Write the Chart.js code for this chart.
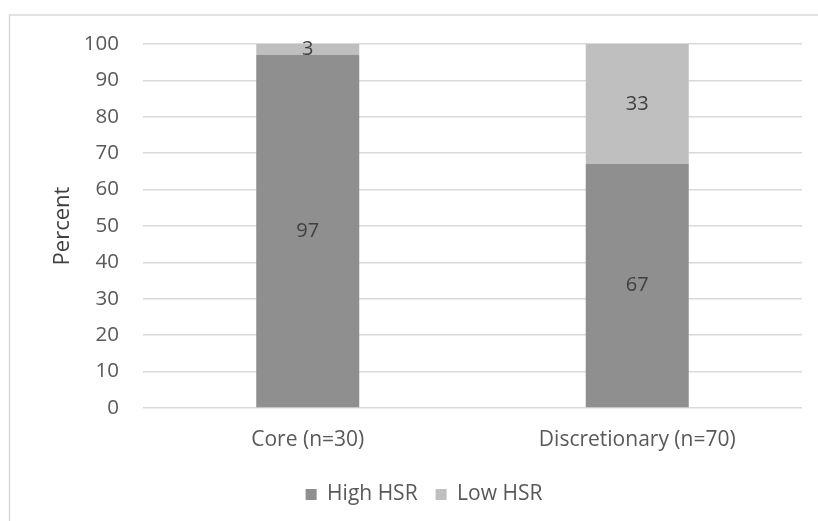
<!DOCTYPE html>
<html lang="en">
<head>
  <meta charset="UTF-8">
  <title>HSR by food group</title>
  <script src="https://cdn.jsdelivr.net/npm/chart.js"></script>
  <style>
    body {
      margin: 0;
      padding: 0;
      background: #fff;
    }
    .chart-box {
      position: relative;
      width: 818px;
      height: 521px;
    }
  </style>
</head>
<body>
  <div class="chart-box">
    <canvas id="chart"></canvas>
  </div>

  <script>
    const categories = ["Core (n=30)", "Discretionary (n=70)"];
    const highHSR = [97, 67];
    const lowHSR = [3, 33];
    const yTicks = [0, 10, 20, 30, 40, 50, 60, 70, 80, 90, 100];

    const textColor = "#595959";
    const fontFamily = "'Open Sans', sans-serif";

    // outer frame like the spreadsheet chart border
    const frame = {
      id: "frame",
      beforeDraw(chart) {
        const ctx = chart.ctx;
        ctx.save();
        ctx.strokeStyle = "#d9d9d9";
        ctx.lineWidth = 1.5;
        ctx.beginPath();
        ctx.moveTo(9.5, 521);
        ctx.lineTo(9.5, 15);
        ctx.lineTo(818, 15);
        ctx.stroke();
        ctx.restore();
      }
    };

    // legend in the original sits a bit right of the canvas centre
    const legendShift = {
      id: "legendShift",
      afterLayout(chart) {
        chart.legend.left += 23;
        chart.legend.right += 23;
      }
    };

    // value labels in the middle of each segment
    const segLabels = {
      id: "segLabels",
      afterDatasetsDraw(chart) {
        const ctx = chart.ctx;
        ctx.save();
        ctx.fillStyle = "#404040";
        ctx.font = "20px " + fontFamily;
        ctx.textAlign = "center";
        ctx.textBaseline = "middle";
        chart.data.datasets.forEach((ds, i) => {
          chart.getDatasetMeta(i).data.forEach((bar, j) => {
            const mid = (bar.y + bar.base) / 2;
            ctx.fillText(ds.data[j], bar.x, mid);
          });
        });
        ctx.restore();
      }
    };

    new Chart(document.getElementById("chart"), {
      type: "bar",
      data: {
        labels: categories,
        datasets: [
          { label: "High HSR", data: highHSR, backgroundColor: "#8f8f8f" },
          { label: "Low HSR", data: lowHSR, backgroundColor: "#bfbfbf" }
        ]
      },
      options: {
        responsive: true,
        maintainAspectRatio: false,
        animation: false,
        layout: { padding: { top: 44, right: 16, left: 0, bottom: 6 } },
        datasets: {
          bar: { categoryPercentage: 1, barPercentage: 0.3126 }
        },
        scales: {
          x: {
            stacked: true,
            grid: { display: false },
            border: { display: false },
            ticks: { color: textColor, font: { family: fontFamily, size: 21 }, padding: 11 },
            afterFit(axis) {
              axis.height = 58;
            }
          },
          y: {
            stacked: true,
            min: 0,
            max: 100,
            afterBuildTicks(axis) {
              axis.ticks = yTicks.map(v => ({ value: v }));
            },
            afterFit(axis) {
              axis.width = 143;
            },
            grid: { color: "#d9d9d9", lineWidth: 1.5, drawTicks: false },
            border: { display: false },
            ticks: { color: textColor, font: { family: fontFamily, size: 20.5 }, padding: 24 },
            title: {
              display: true,
              text: "Percent",
              color: "#404040",
              font: { family: fontFamily, size: 22 },
              padding: { top: 50, bottom: 0 }
            }
          }
        },
        plugins: {
          legend: {
            position: "bottom",
            labels: {
              color: textColor,
              font: { family: fontFamily, size: 21 },
              boxWidth: 11,
              boxHeight: 11,
              padding: 18
            }
          },
          tooltip: { enabled: false }
        }
      },
      plugins: [frame, legendShift, segLabels]
    });
  </script>
</body>
</html>
